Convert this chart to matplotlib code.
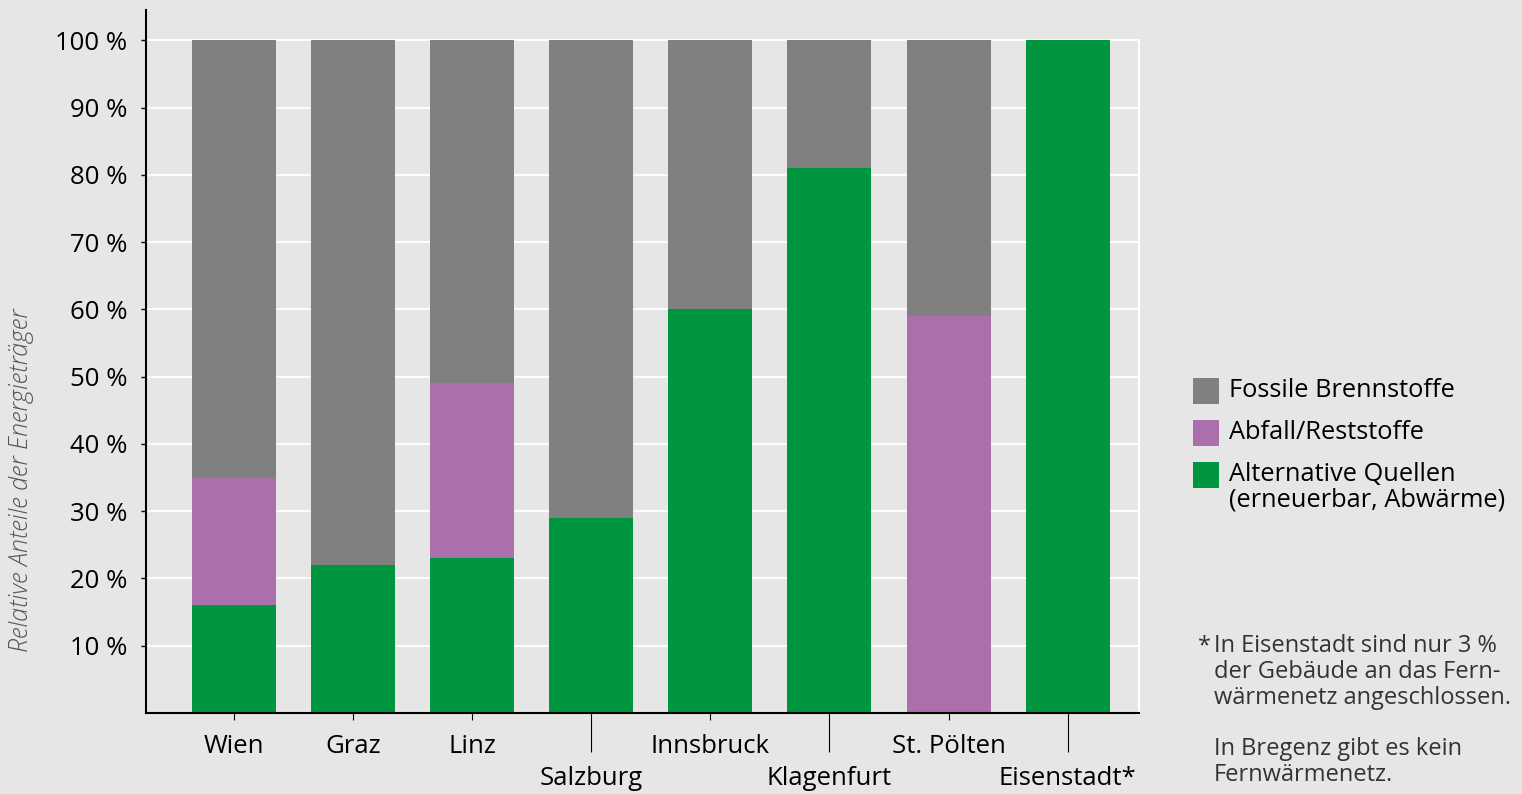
import matplotlib.pyplot as plt
from matplotlib.patches import Rectangle

plt.rcParams['font.family'] = ['Open Sans', 'DejaVu Sans']

staedte = ['Wien', 'Graz', 'Linz', 'Salzburg', 'Innsbruck', 'Klagenfurt', 'St. Pölten', 'Eisenstadt*']
alternativ = [16, 22, 23, 29, 60, 81, 0, 100]
abfall = [19, 0, 26, 0, 0, 0, 59, 0]
fossil = [65, 78, 51, 71, 40, 19, 41, 0]

serien = ['Fossile Brennstoffe', 'Abfall/Reststoffe', 'Alternative Quellen\n(erneuerbar, Abwärme)']
farben = ['#808080', '#ab70ab', '#00953f']
hintergrund = '#e6e6e6'

fig = plt.figure(figsize=(15.22, 7.94), dpi=100, facecolor=hintergrund)
ax = fig.add_axes([0.0959, 0.102, 0.6525, 0.8854])
ax.set_facecolor(hintergrund)

x = list(range(len(staedte)))
breite = 0.705
unten = [0] * len(staedte)
for werte, farbe in zip([alternativ, abfall, fossil], farben[::-1]):
    ax.bar(x, werte, breite, bottom=unten, color=farbe, zorder=2)
    unten = [u + w for u, w in zip(unten, werte)]

ax.set_xlim(-0.74, 7.6)
ax.set_ylim(0, 104.5)

# weisses Raster
for y in range(10, 101, 10):
    ax.axhline(y, color='white', lw=1.3, zorder=1)
ax.plot([7.6, 7.6], [0, 100], color='white', lw=1.5, zorder=1, clip_on=False)

ax.set_yticks(range(10, 101, 10))
ax.set_yticklabels([f'{v} %' for v in range(10, 101, 10)])
ax.tick_params(axis='y', length=3.5, width=1, pad=10, labelsize=18.5, color='black')

# Staedtenamen abwechselnd oben und unten
oben = [0, 1, 2, 4, 6]
tief = [3, 5, 7]
ax.set_xticks(oben)
ax.set_xticklabels([staedte[i] for i in oben])
ax.set_xticks(tief, minor=True)
ax.set_xticklabels([staedte[i] for i in tief], minor=True)
ax.tick_params(axis='x', which='major', length=5, width=0.8, pad=10, labelsize=18.5)
ax.tick_params(axis='x', which='minor', length=28, width=0.8, pad=10, labelsize=18.5)

for s in ['top', 'right']:
    ax.spines[s].set_visible(False)
ax.spines['left'].set_linewidth(1.5)
ax.spines['bottom'].set_linewidth(1.5)

fig.text(22 / 1522, 1 - 480 / 794, 'Relative Anteile der Energieträger', rotation=90,
         ha='center', va='center', fontsize=18, style='italic', color='#555555',
         fontweight='light')

# Legende
zeilen_y = [391, 433, 475]
for name, farbe, yy in zip(serien, farben, zeilen_y):
    fig.add_artist(Rectangle((1193 / 1522, 1 - (yy + 13) / 794), 26 / 1522, 26 / 794,
                             transform=fig.transFigure, facecolor=farbe, edgecolor='none'))
    fig.text(1229 / 1522, 1 - (yy - 13) / 794, name, ha='left', va='top',
             fontsize=18.3, linespacing=1.03)

fig.text(1198 / 1522, 1 - 634 / 794, '*', ha='left', va='top', fontsize=17, color='#333333')
fig.text(1214 / 1522, 1 - 634 / 794,
         'In Eisenstadt sind nur 3 %\nder Gebäude an das Fern-\nwärmenetz angeschlossen.\n\n'
         'In Bregenz gibt es kein\nFernwärmenetz.',
         ha='left', va='top', fontsize=17, color='#333333', linespacing=1.1)

fig.savefig('out.png', dpi=100, facecolor=hintergrund)
